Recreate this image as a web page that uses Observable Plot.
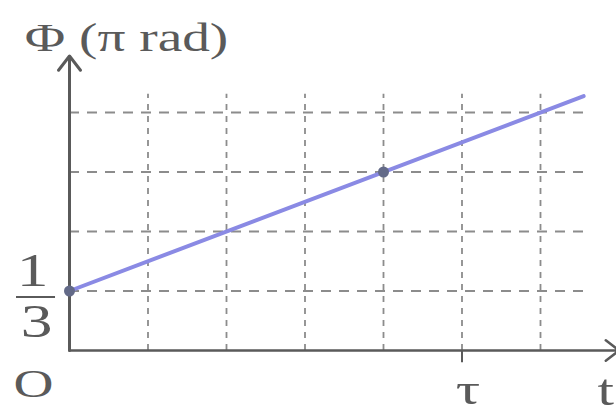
<!DOCTYPE html>
<html>
<head>
<meta charset="utf-8">
<script src="https://cdn.jsdelivr.net/npm/d3@7"></script>
<script src="https://cdn.jsdelivr.net/npm/@observablehq/plot@0.6"></script>
<style>
  html, body { margin: 0; padding: 0; background: #fff; }
  svg { display: block; }
</style>
</head>
<body>
<script>
// Phase Φ (in units of π rad) growing linearly with time t
const gridT = [1, 2, 3, 4, 5, 6];            // vertical grid divisions of t
const gridPhi = [1 / 3, 2 / 3, 1, 4 / 3];    // horizontal grid levels, π rad
const lineT = [0, 6.55];                     // the phase line
const linePhi = [1 / 3, 1.425];
const pointT = [0, 4];                       // marked points
const pointPhi = [1 / 3, 1];
const tickT = [5];                           // labelled time tick
const tickLabels = ["τ"];
const phiTick = [1 / 3];                     // labelled phase tick
const phiNum = ["1"], phiDen = ["3"];
const yTitle = ["Φ (π rad)"];
const xTitle = ["t"];
const originLabel = ["O"];

const serif = "Liberation Serif, Times New Roman, serif";
const ink = "#5a5a5a";
const gridColor = "#8c8c8c";

const lineData = lineT.map((t, i) => ({t, phi: linePhi[i]}));
const pointData = pointT.map((t, i) => ({t, phi: pointPhi[i]}));

const svg = Plot.plot({
  width: 616,
  height: 414,
  margin: 0,
  x: {domain: [0, 7], range: [69, 69 + 7 * 78.5], axis: null},
  y: {domain: [0, 2], range: [350, 350 - 2 * 178.5], axis: null},
  style: {background: "#fff"},
  marks: [
    // dashed grid
    Plot.ruleY(gridPhi, {x1: 0, x2: 6.57, stroke: gridColor, strokeWidth: 1.8, strokeDasharray: "10,8"}),
    Plot.ruleX(gridT, {y1: 0, y2: 1.435, stroke: gridColor, strokeWidth: 1.8, strokeDasharray: "6,6"}),
    // tick below the time axis at τ
    Plot.ruleX(tickT, {y1: -0.068, y2: 0, stroke: ink, strokeWidth: 2}),
    // axes with open arrowheads
    Plot.arrow([0], {x1: 0, y1: 0, x2: 7.0, y2: 0, stroke: ink, strokeWidth: 2.5, headLength: 10, headAngle: 75}),
    Plot.arrow([0], {x1: 0, y1: 0, x2: 0, y2: 1.65, stroke: ink, strokeWidth: 3, headLength: 9, headAngle: 75}),
    // phase line and points
    Plot.line(lineData, {x: "t", y: "phi", stroke: "#8a8ae4", strokeWidth: 4, strokeLinecap: "round"}),
    Plot.dot(pointData, {x: "t", y: "phi", r: 5.5, fill: "#636a88", stroke: "none"}),
    // labels
    Plot.text(yTitle, {x: 0, y: 1.65, text: d => d, dx: 57, dy: -18, fontSize: 41, fontFamily: serif, fill: ink, textAnchor: "middle", lineAnchor: "middle"}),
    Plot.text(xTitle, {x: 6.83, y: 0, text: d => d, dy: 40, fontSize: 44, fontFamily: serif, fill: ink, textAnchor: "middle", lineAnchor: "middle"}),
    Plot.text(originLabel, {x: 0, y: 0, text: d => d, dx: -36, dy: 33, fontSize: 41, fontFamily: serif, fill: ink, textAnchor: "middle", lineAnchor: "middle"}),
    Plot.text(tickT, {x: d => d, y: 0, text: (d, i) => tickLabels[i], dx: 6, dy: 39, fontSize: 45, fontFamily: serif, fill: ink, textAnchor: "middle", lineAnchor: "middle"}),
    Plot.text(phiTick, {x: 0, y: d => d, text: (d, i) => phiNum[i], dx: -37, dy: -20, fontSize: 47, fontFamily: serif, fill: ink, textAnchor: "middle", lineAnchor: "middle"}),
    Plot.text(phiTick, {x: 0, y: d => d, text: (d, i) => phiDen[i], dx: -33, dy: 31, fontSize: 47, fontFamily: serif, fill: ink, textAnchor: "middle", lineAnchor: "middle"}),
    Plot.ruleY(phiTick, {x1: -0.675, x2: -0.178, dy: 6, stroke: ink, strokeWidth: 2})
  ]
});

document.body.appendChild(svg);

// the lettering is set wide: stretch each label horizontally about its centre
svg.querySelectorAll("text").forEach(t => {
  const b = t.getBBox();
  const cx = b.x + b.width / 2;
  const prev = t.getAttribute("transform") || "";
  t.setAttribute("transform", `${prev} translate(${cx},0) scale(1.35,1) translate(${-cx},0)`);
});
</script>
</body>
</html>
